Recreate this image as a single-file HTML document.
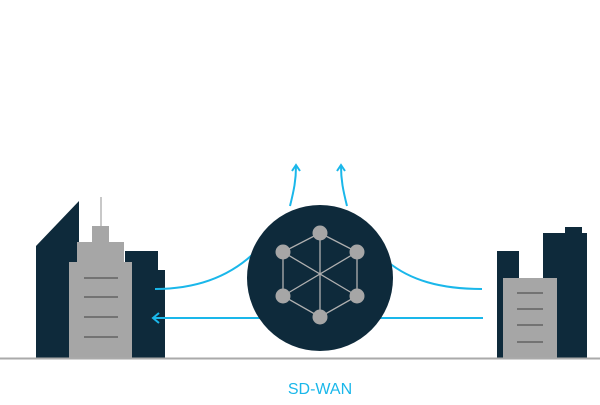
<!DOCTYPE html>
<html><head><style>html,body{margin:0;padding:0;background:#fff}</style></head><body>
<svg width="600" height="400" viewBox="0 0 600 400" xmlns="http://www.w3.org/2000/svg">
<rect width="600" height="400" fill="#fff"/>
<!-- left buildings -->
<polygon points="36,246 79,201 79,358 36,358" fill="#0e2a3b"/>
<polygon points="125,251 158,251 158,270 165,270 165,358 125,358" fill="#0e2a3b"/>
<line x1="101" y1="197" x2="101" y2="228" stroke="#b5b5b5" stroke-width="1.5"/>
<rect x="92" y="226" width="17" height="17" fill="#a6a6a6"/>
<rect x="77" y="242" width="47" height="22" fill="#a6a6a6"/>
<rect x="69" y="262" width="63" height="96" fill="#a6a6a6"/>
<g stroke="#555" stroke-width="1.3"><line x1="84" y1="278" x2="118" y2="278"/><line x1="84" y1="297" x2="118" y2="297"/><line x1="84" y1="317" x2="118" y2="317"/><line x1="84" y1="337" x2="118" y2="337"/></g>
<!-- right buildings -->
<rect x="497" y="251" width="22" height="107" fill="#0e2a3b"/>
<rect x="565" y="227" width="17" height="10" fill="#0e2a3b"/>
<rect x="543" y="233" width="44" height="125" fill="#0e2a3b"/>
<rect x="503" y="278" width="54" height="80" fill="#a6a6a6"/>
<g stroke="#555" stroke-width="1.3"><line x1="517" y1="293" x2="543" y2="293"/><line x1="517" y1="309" x2="543" y2="309"/><line x1="517" y1="325" x2="543" y2="325"/><line x1="517" y1="342" x2="543" y2="342"/></g>
<line x1="0" y1="358.5" x2="600" y2="358.5" stroke="#aaa" stroke-width="2"/>
<!-- connectors -->
<g stroke="#1ab7ea" stroke-width="2" fill="none">
<path d="M155,289 C200,289 230,275 252,255"/>
<line x1="154" y1="318" x2="260" y2="318"/>
<polyline points="159,313 153,318 159,323"/>
<path d="M388,262 C410,280 440,289 482,289"/>
<line x1="375" y1="318" x2="483" y2="318"/>
<path d="M290,206 C294,190 296,180 296,166"/>
<polyline points="292,171 296,165 300,171"/>
<path d="M347,206 C343,190 341,180 341,166"/>
<polyline points="337,171 341,165 345,171"/>
</g>
<!-- hub -->
<circle cx="320" cy="278" r="73" fill="#0e2a3b"/>
<g stroke="#b0b0b0" stroke-width="1.3">
<polygon points="320,233 357,252 357,296 320,317 283,296 283,252" fill="none"/>
<line x1="320" y1="233" x2="320" y2="317"/>
<line x1="283" y1="252" x2="357" y2="296"/>
<line x1="357" y1="252" x2="283" y2="296"/>
</g>
<g fill="#a6a6a6">
<circle cx="320" cy="233" r="7.5"/><circle cx="357" cy="252" r="7.5"/><circle cx="357" cy="296" r="7.5"/>
<circle cx="320" cy="317" r="7.5"/><circle cx="283" cy="296" r="7.5"/><circle cx="283" cy="252" r="7.5"/>
</g>
<text x="320" y="394" text-anchor="middle" font-family="Liberation Sans, sans-serif" font-size="16" fill="#1ab7ea">SD-WAN</text>
</svg>
</body></html>
